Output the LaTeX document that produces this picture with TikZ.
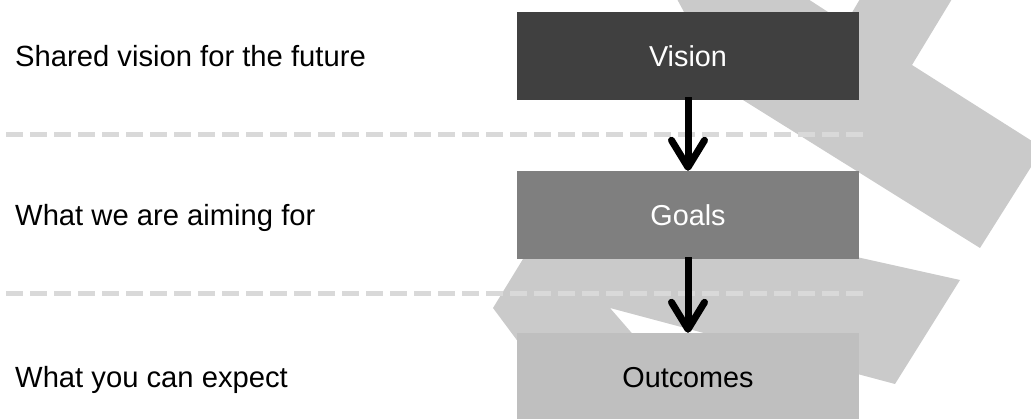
\documentclass[tikz,border=0pt]{standalone}
\usepackage{fontspec}
\setmainfont{Liberation Sans}
\usetikzlibrary{arrows.meta}
\definecolor{shapegray}{HTML}{CACACA}
\definecolor{dashgray}{HTML}{D9D9D9}
\definecolor{visionfill}{HTML}{404040}
\definecolor{goalsfill}{HTML}{7F7F7F}
\definecolor{outfill}{HTML}{BFBFBF}
\begin{document}
\begin{tikzpicture}[x=1pt,y=-1pt,
  lbl/.style={anchor=base west,inner sep=0pt,font=\fontsize{29.2}{34}\selectfont},
  levelbox/.style={minimum width=342pt,minimum height=88pt,inner sep=0pt,
    text height=20.6pt,text depth=0pt,font=\fontsize{28.8}{34}\selectfont},
  sepline/.style={draw=dashgray,line width=5pt,dash pattern=on 17pt off 7pt},
  arr/.style={line width=7pt,-{Straight Barb[length=27pt,width=33pt,round]}}]
\useasboundingbox (0,0) rectangle (1031,419);
\clip (0,0) rectangle (1031,419);
% background shapes
\fill[shapegray] (677,-1) -- (808,-1) -- (845.6,23.4) -- (860,-1) -- (952,-1)
  -- (912,65) -- (1043,148) -- (980,248) -- (743,100) -- (690,67) -- (684,12) -- cycle;
\fill[shapegray] (493,308) -- (523,259) -- (564,192) -- (960,280) -- (895,384)
  -- (610,308) -- (650,354) -- (560,400) -- (522,347) -- cycle;
% separators
\coordinate (s1a) at (6,134.5);
\coordinate (s1b) at (863,134.5);
\coordinate (s2a) at (6,293.5);
\coordinate (s2b) at (863,293.5);
\draw[sepline] (s1a) -- (s1b);
\draw[sepline] (s2a) -- (s2b);
% boxes
\node[levelbox,fill=visionfill,text=white] (v) at (688,56) {Vision};
\node[levelbox,fill=goalsfill,text=white] (g) at (688,215) {Goals};
\node[levelbox,fill=outfill,text=black] (o) at (688,377) {Outcomes};
% arrows
\draw[arr] ([yshift=3pt]v.south) -- (g.north);
\draw[arr] ([yshift=2pt]g.south) -- (o.north);
% labels
\node[lbl] (l1) at (15,66.5) {Shared vision for the future};
\node[lbl] (l2) at (15,225.5) {What we are aiming for};
\node[lbl] (l3) at (15,387.5) {What you can expect};
\end{tikzpicture}
\end{document}
